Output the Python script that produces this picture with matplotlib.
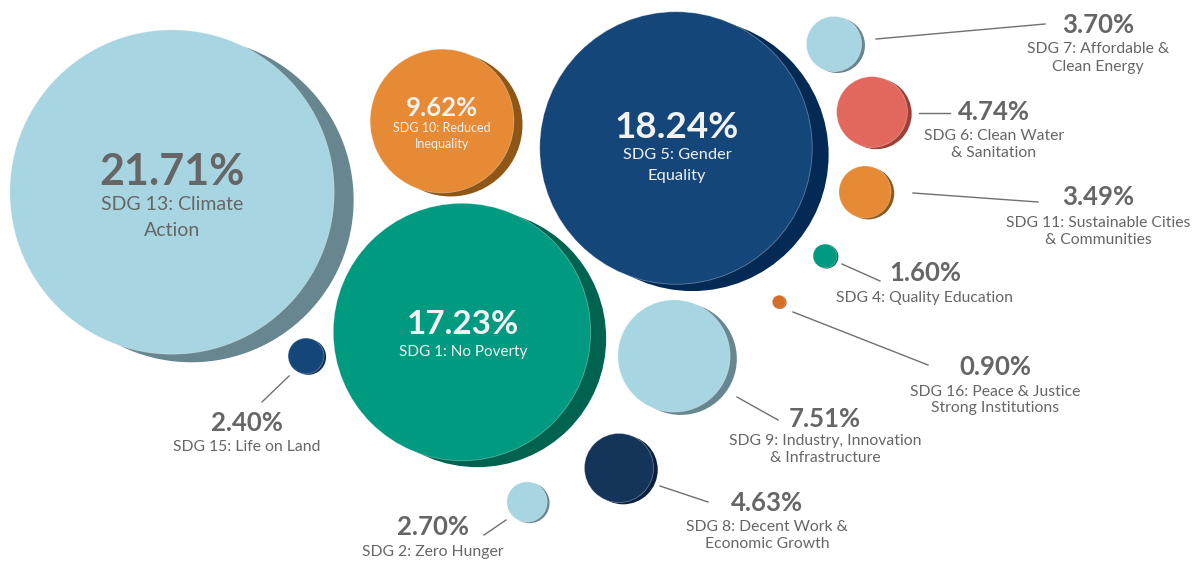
import matplotlib

matplotlib.use("Agg")

import matplotlib.pyplot as plt
from matplotlib.patches import Circle

# data
goals = [
    "SDG 13: Climate\nAction",
    "SDG 5: Gender\nEquality",
    "SDG 1: No Poverty",
    "SDG 10: Reduced\nInequality",
    "SDG 9: Industry, Innovation\n& Infrastructure",
    "SDG 6: Clean Water\n& Sanitation",
    "SDG 8: Decent Work &\nEconomic Growth",
    "SDG 7: Affordable &\nClean Energy",
    "SDG 11: Sustainable Cities\n& Communities",
    "SDG 2: Zero Hunger",
    "SDG 15: Life on Land",
    "SDG 4: Quality Education",
    "SDG 16: Peace & Justice\nStrong Institutions",
]
shares = [21.71, 18.24, 17.23, 9.62, 7.51, 4.74, 4.63, 3.70, 3.49, 2.70, 2.40, 1.60, 0.90]

# layout (pixel space, y down)
centers = [
    (172, 192), (676, 148), (462, 332), (442, 121), (674, 356), (872, 112),
    (619, 468), (834, 44), (865, 192), (527, 502), (306, 356), (825, 256), (779, 302),
]
fills = [
    "#A8D5E2", "#15467A", "#009A80", "#E68A35", "#A8D5E2", "#E2685D",
    "#143459", "#A8D5E2", "#E68A35", "#A8D5E2", "#15467A", "#009A80", "#D56E2A",
]
shadows = [
    "#68868F", "#022A54", "#00634F", "#8E5717", "#68868F", "#9C3F37",
    "#0A1F3D", "#68868F", "#8E5717", "#68868F", "#0A2A52", "#00634F", "#8E4A1A",
]
# label: (x, y of value text, value size, sub size, offset to 1st sub line, line gap, color)
labels = [
    (172, 172, 31, 14, 33, 25, "#666666"),
    (677, 127, 26.5, 11.8, 28, 21, "#F2F2F2"),
    (463, 325, 24, 11, 27, 20, "#F2F2F2"),
    (442, 108, 18.5, 9, 20, 16, "#F2F2F2"),
    (825, 419, 18.5, 11.3, 22, 17, "#666666"),
    (994, 112, 18.5, 11.3, 24, 17, "#666666"),
    (767, 503, 18.5, 11.3, 24, 17, "#666666"),
    (1098, 25, 18.5, 11.3, 24, 18, "#666666"),
    (1098, 197, 18.5, 11.3, 26, 17, "#666666"),
    (433, 527, 18.5, 11.3, 25, 17, "#666666"),
    (247, 423, 18.5, 11.3, 24, 17, "#666666"),
    (925, 273, 18.5, 11.3, 25, 17, "#666666"),
    (995, 367, 18.5, 11.3, 25, 16, "#666666"),
]
leaders = [
    None, None, None, None,
    ((737, 397), (778, 420)),
    ((919, 113), (950, 113)),
    ((660, 486), (708, 502)),
    ((876, 39), (1045, 24)),
    ((913, 193), (1038, 202)),
    ((484, 535), (506, 520)),
    ((289, 376), (262, 402)),
    ((842, 264), (880, 281)),
    ((793, 312), (928, 365)),
]

PX_PER_PCT = 7.47

plt.rcParams["font.family"] = ["Lato", "DejaVu Sans"]

fig = plt.figure(figsize=(11.97, 5.65), dpi=100)
ax = fig.add_axes([0, 0, 1, 1])
ax.set_xlim(0, 1197)
ax.set_ylim(565, 0)
ax.axis("off")

for i, (goal, share) in enumerate(zip(goals, shares)):
    cx, cy = centers[i]
    r = share * PX_PER_PCT
    ax.add_patch(Circle((cx + 0.12 * r, cy + 0.05 * r), r, color=shadows[i], lw=0, zorder=2))
    ax.add_patch(Circle((cx, cy), r, facecolor=fills[i], edgecolor=(1, 1, 1, 0.35), lw=0.6, zorder=3))

    lx, ly, vs, ss, off, gap, col = labels[i]
    ax.text(lx, ly, f"{share:.2f}%", ha="center", va="center", fontsize=vs,
            fontweight="bold", color=col, zorder=5)
    for k, line in enumerate(goal.split("\n")):
        ax.text(lx, ly + off + k * gap, line, ha="center", va="center",
                fontsize=ss, color=col, zorder=5)

    if leaders[i] is not None:
        (x0, y0), (x1, y1) = leaders[i]
        ax.plot([x0, x1], [y0, y1], color="#707070", lw=1, zorder=4)

fig.savefig("out.png", dpi=100)
